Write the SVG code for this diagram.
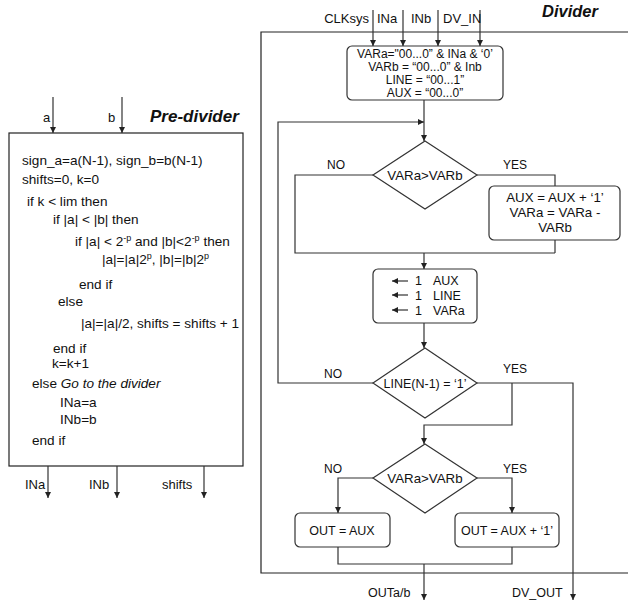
<svg xmlns="http://www.w3.org/2000/svg" width="628" height="602" viewBox="0 0 628 602">
<defs>
<marker id="arr" viewBox="0 0 10 10" refX="10" refY="5" markerWidth="6" markerHeight="6" markerUnits="userSpaceOnUse" orient="auto"><path d="M0,0 L10,5 L0,10 z" fill="#222"/></marker>
</defs>
<style>
text{font-family:"Liberation Sans",Arial,sans-serif;font-size:12.5px;fill:#111}
.c{text-anchor:middle}
.t{font-weight:bold;font-style:italic}
.p{font-size:13.6px}
.lb{font-size:13px}
.ln{fill:none;stroke:#333;stroke-width:1.2}
.fr{fill:none;stroke:#222;stroke-width:1.2}
.bx{fill:#fff;stroke:#333;stroke-width:1.2}
.ar{fill:none;stroke:#333;stroke-width:1.2;marker-end:url(#arr)}
.sup{font-size:9px}
.i{font-size:12px}
</style>
<rect width="628" height="602" fill="#fff"/>

<!-- Pre-divider -->
<g id="predivider">
<rect x="9" y="133" width="234" height="333" class="fr"/>
<text x="150" y="122" class="t" style="font-size:17px">Pre-divider</text>
<text x="22" y="165" class="p">sign_a=a(N-1), sign_b=b(N-1)</text>
<text x="22" y="184" class="p">shifts=0,  k=0</text>
<text x="27" y="206" class="p">if k &lt; lim then</text>
<text x="53" y="224" class="p">if |a| &lt; |b| then</text>
<text x="75" y="246" class="p">if |a| &lt; 2<tspan class="sup" dy="-5">-p</tspan><tspan dy="5"> and |b|&lt;2</tspan><tspan class="sup" dy="-5">-p</tspan><tspan dy="5"> then</tspan></text>
<text x="102" y="264" class="p">|a|=|a|2<tspan class="sup" dy="-5">p</tspan><tspan dy="5">, |b|=|b|2</tspan><tspan class="sup" dy="-5">p</tspan></text>
<text x="79" y="289" class="p">end if</text>
<text x="58" y="306" class="p">else</text>
<text x="81" y="328" class="p">|a|=|a|/2, shifts = shifts + 1</text>
<text x="53" y="353" class="p">end if</text>
<text x="52" y="368" class="p">k=k+1</text>
<text x="32" y="388" class="p">else <tspan font-style="italic">Go to the divider</tspan></text>
<text x="60" y="407" class="p">INa=a</text>
<text x="60" y="424" class="p">INb=b</text>
<text x="32" y="445" class="p">end if</text>
</g>

<g id="predivider-io">
<text x="43" y="122" class="lb">a</text>
<text x="108" y="122" class="lb">b</text>
<text x="25" y="489" class="lb">INa</text>
<text x="89" y="489" class="lb">INb</text>
<text x="162" y="489" class="lb">shifts</text>
</g>

<!-- Divider frame -->
<g id="divider">
<path d="M628,32 H261 V573 H628" class="fr"/>
<text x="542" y="17" class="t" style="font-size:16.5px">Divider</text>
</g>

<g id="init">
<rect x="347" y="46" width="156" height="54" rx="5" class="bx"/>
<text x="425" y="58" class="c i">VARa="00...0” &amp; INa &amp; ‘0’</text>
<text x="425" y="71" class="c i">VARb = “00...0” &amp; Inb</text>
<text x="425" y="84" class="c i">LINE = “00...1”</text>
<text x="425" y="97" class="c i">AUX = “00...0”</text>
</g>

<g id="dec1">
<polygon points="425,141 477,175 425,209 373,175" class="bx"/>
<text x="425" y="180" class="c" style="font-size:13.3px">VARa&gt;VARb</text>
</g>

<g id="sub">
<rect x="489" y="186" width="131" height="54" rx="5" class="bx"/>
<text x="555" y="202" class="c" style="font-size:13.3px">AUX = AUX + ‘1’</text>
<text x="555" y="217" class="c" style="font-size:13.3px">VARa = VARa -</text>
<text x="555" y="232" class="c" style="font-size:13.3px">VARb</text>
</g>

<g id="shift">
<rect x="373" y="269" width="104" height="54" rx="5" class="bx"/>
<line x1="408" y1="281" x2="392" y2="281" class="ar"/>
<line x1="408" y1="295" x2="392" y2="295" class="ar"/>
<line x1="408" y1="310" x2="392" y2="310" class="ar"/>
<text x="415" y="285">1</text><text x="433" y="285">AUX</text>
<text x="415" y="300">1</text><text x="433" y="300">LINE</text>
<text x="415" y="315">1</text><text x="433" y="315">VARa</text>
</g>

<g id="dec2">
<polygon points="425,348 477,383 425,418 373,383" class="bx"/>
<text x="425" y="388" class="c">LINE(N-1) = ‘1’</text>
</g>

<g id="dec3">
<polygon points="425,444 477,478 425,513 373,478" class="bx"/>
<text x="425" y="483" class="c" style="font-size:13.3px">VARa&gt;VARb</text>
</g>

<g id="outaux">
<rect x="295" y="513" width="95" height="34" rx="5" class="bx"/>
<text x="342" y="535" class="c">OUT = AUX</text>
</g>

<g id="outaux1">
<rect x="455" y="513" width="104" height="34" rx="5" class="bx"/>
<text x="507" y="535" class="c">OUT = AUX + ‘1’</text>
</g>

<g id="connectors">
<line x1="373" y1="10" x2="373" y2="46" class="ar"/>
<line x1="403" y1="10" x2="403" y2="46" class="ar"/>
<line x1="438" y1="10" x2="438" y2="46" class="ar"/>
<line x1="480" y1="10" x2="480" y2="46" class="ar"/>
<line x1="53" y1="97" x2="53" y2="133" class="ar"/>
<line x1="122" y1="97" x2="122" y2="133" class="ar"/>
<line x1="48" y1="466" x2="48" y2="498" class="ar"/>
<line x1="117" y1="466" x2="117" y2="498" class="ar"/>
<line x1="204" y1="466" x2="204" y2="498" class="ar"/>

<line x1="424" y1="100" x2="424" y2="141" class="ar"/>
<path d="M373,383 H278 V122 H424" class="ar"/>
<path d="M373,175 H295 V253 H555" class="ln"/>
<path d="M477,175 H555 V186" class="ln"/>
<line x1="555" y1="240" x2="555" y2="253" class="ln"/>
<line x1="424" y1="253" x2="424" y2="269" class="ar"/>
<line x1="424" y1="323" x2="424" y2="348" class="ar"/>
<path d="M477,383 H573 V600" class="ar"/>
<path d="M512,383 V425 H424 V444" class="ar"/>
<path d="M373,478 H338 V513" class="ar"/>
<path d="M477,478 H512 V513" class="ar"/>
<path d="M338,547 V564 H512 V547" class="ln"/>
<line x1="424" y1="564" x2="424" y2="600" class="ar"/>

<text x="327" y="169" style="font-size:12px">NO</text>
<text x="503" y="169" style="font-size:12px">YES</text>
<text x="324" y="378" style="font-size:12px">NO</text>
<text x="503" y="373" style="font-size:12px">YES</text>
<text x="324" y="473" style="font-size:12px">NO</text>
<text x="503" y="473" style="font-size:12px">YES</text>
<text x="369" y="23" class="lb" style="text-anchor:end">CLKsys</text>
<text x="377" y="23" class="lb">INa</text>
<text x="411" y="23" class="lb">INb</text>
<text x="443" y="23" class="lb">DV_IN</text>
<text x="368" y="597">OUTa/b</text>
<text x="512" y="597">DV_OUT</text>
</g>
</svg>
